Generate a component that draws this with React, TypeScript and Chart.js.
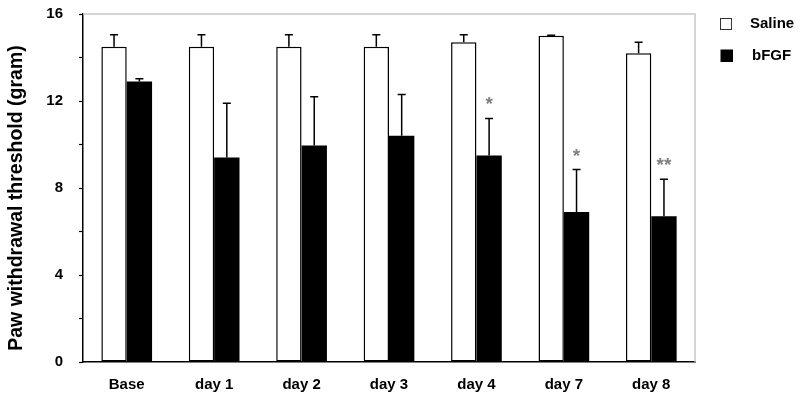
import React, { useEffect, useRef } from "react";
import { Chart, registerables } from "chart.js";

Chart.register(...registerables);

const categories = ["Base", "day 1", "day 2", "day 3", "day 4", "day 7", "day 8"];
const salineValues = [14.5, 14.5, 14.5, 14.5, 14.7, 15.0, 14.2];
const salineErrors = [0.55, 0.55, 0.55, 0.55, 0.35, 0.02, 0.5];
const bfgfValues = [12.9, 9.4, 9.95, 10.4, 9.5, 6.9, 6.7];
const bfgfErrors = [0.12, 2.5, 2.25, 1.9, 1.7, 1.95, 1.7];
const significance = ["", "", "", "", "*", "*", "**"];
const yTickLabels = [0, 4, 8, 12, 16];
const seriesNames = ["Saline", "bFGF"];
const yTitle = "Paw withdrawal threshold (gram)";

const FONT = "'Liberation Sans', Arial, sans-serif";

const errorBarPlugin = {
  id: "errorBars",
  afterDatasetsDraw(chart: any) {
    const { ctx, scales } = chart;
    const y = scales.y;
    const errs = [salineErrors, bfgfErrors];
    ctx.save();
    ctx.strokeStyle = "#000";
    ctx.lineWidth = 1.5;
    chart.data.datasets.forEach((ds: any, di: number) => {
      const meta = chart.getDatasetMeta(di);
      meta.data.forEach((bar: any, i: number) => {
        const v = ds.data[i];
        const top = y.getPixelForValue(v + errs[di][i]);
        const x = bar.x;
        ctx.beginPath();
        ctx.moveTo(x, bar.y);
        ctx.lineTo(x, top);
        ctx.moveTo(x - 4, top);
        ctx.lineTo(x + 4, top);
        ctx.stroke();
        if (di === 1 && significance[i]) {
          ctx.fillStyle = "#808080";
          ctx.font = `bold 19px ${FONT}`;
          ctx.textAlign = "center";
          ctx.textBaseline = "alphabetic";
          ctx.fillText(significance[i], x, top - 8);
        }
      });
    });
    ctx.restore();
  },
  afterDraw(chart: any) {
    const { ctx, chartArea } = chart;
    ctx.save();
    // grey frame top and right
    ctx.strokeStyle = "#c8c8c8";
    ctx.lineWidth = 1.5;
    ctx.beginPath();
    ctx.moveTo(chartArea.left, chartArea.top);
    ctx.lineTo(chartArea.right, chartArea.top);
    ctx.lineTo(chartArea.right, chartArea.bottom);
    ctx.stroke();
    // y title
    ctx.save();
    ctx.translate(17, 198);
    ctx.rotate(-Math.PI / 2);
    ctx.fillStyle = "#000";
    ctx.font = `bold 19.5px ${FONT}`;
    ctx.textAlign = "center";
    ctx.textBaseline = "middle";
    ctx.fillText(yTitle, 0, 0);
    ctx.restore();
    // legend
    ctx.lineWidth = 1;
    ctx.strokeStyle = "#333";
    ctx.fillStyle = "#fff";
    ctx.fillRect(720.5, 18.5, 11, 11);
    ctx.strokeRect(720.5, 18.5, 11, 11);
    ctx.fillStyle = "#000";
    ctx.fillRect(720.5, 49.5, 12.5, 12.5);
    ctx.font = `bold 15px ${FONT}`;
    ctx.textAlign = "left";
    ctx.textBaseline = "middle";
    ctx.fillText(seriesNames[0], 750, 24);
    ctx.fillText(seriesNames[1], 752, 56);
    ctx.restore();
  },
};

export default function App() {
  const ref = useRef<HTMLCanvasElement>(null);
  useEffect(() => {
    if (!ref.current) return;
    const chart = new Chart(ref.current, {
      type: "bar",
      data: {
        labels: categories,
        datasets: [
          {
            label: seriesNames[0],
            data: salineValues,
            backgroundColor: "#ffffff",
            borderColor: "#000000",
            borderWidth: 1.5,
            borderSkipped: false,
          },
          {
            label: seriesNames[1],
            data: bfgfValues,
            backgroundColor: "#000000",
            borderColor: "#000000",
            borderWidth: 0,
          },
        ],
      },
      options: {
        animation: false,
        responsive: false,
        maintainAspectRatio: false,
        layout: { padding: { left: 0, right: 105, top: 14, bottom: 0 } },
        datasets: { bar: { categoryPercentage: 0.58, barPercentage: 1 } },
        plugins: {
          legend: { display: false },
          tooltip: { enabled: false },
        },
        scales: {
          x: {
            grid: { display: false, drawTicks: false },
            border: { color: "#000", width: 1.5 },
            ticks: {
              color: "#000",
              font: { family: FONT, size: 15, weight: "bold" },
              padding: 14,
              maxRotation: 0,
            },
            afterFit(scale: any) {
              scale.height = 39;
              scale.paddingLeft = 0;
              scale.paddingRight = 0;
            },
          },
          y: {
            min: 0,
            max: 16,
            grid: {
              drawOnChartArea: false,
              drawTicks: true,
              tickLength: 4,
              color: "#000",
              tickWidth: 1.2,
            },
            border: { color: "#000", width: 1.5 },
            ticks: {
              stepSize: 2,
              color: "#000",
              font: { family: FONT, size: 15, weight: "bold" },
              padding: 16,
              callback: (v: any) => (yTickLabels.includes(Number(v)) ? String(v) : ""),
            },
            afterFit(scale: any) {
              scale.width = 83;
              scale.paddingTop = 0;
              scale.paddingBottom = 0;
            },
          },
        },
      },
      plugins: [errorBarPlugin],
    });
    return () => chart.destroy();
  }, []);
  return (
    <div style={{ position: "fixed", left: 0, top: 0, width: 800, height: 401, background: "#fff" }}>
      <canvas ref={ref} width={800} height={401} style={{ width: 800, height: 401 }} />
    </div>
  );
}
